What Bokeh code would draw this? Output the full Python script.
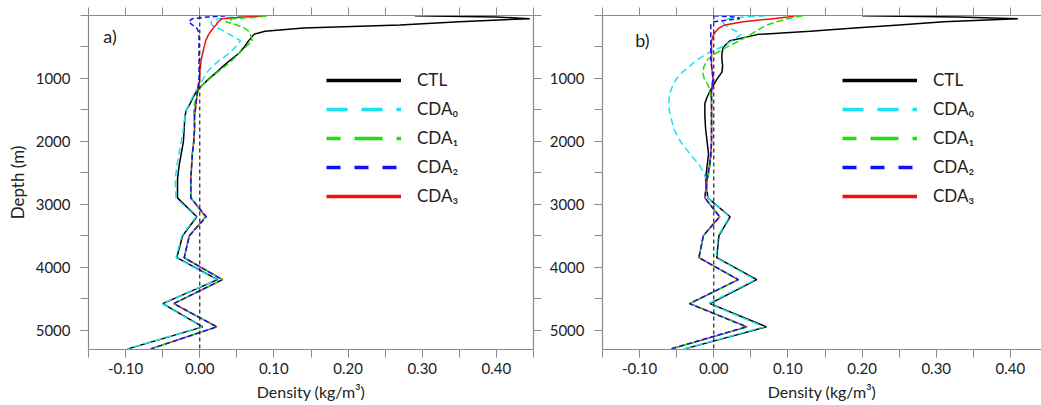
from bokeh.plotting import figure
from bokeh.models import (Range1d, LinearAxis, FixedTicker, PrintfTickFormatter,
                          Span, Legend, LegendItem, Label, ColumnDataSource)
from bokeh.layouts import row
from bokeh.embed import file_html
from bokeh.resources import INLINE

# ---------------- data ----------------
depth = [5, 25, 50, 100, 150, 200, 250, 300, 400, 500, 600, 700, 800, 900, 1000,
         1100, 1200, 1300, 1400, 1500, 1600, 1800, 2000, 2200, 2400, 2600, 2900,
         3200, 3500, 3850, 4200, 4580, 4950, 5300]

# panel a)
ctl_a = [0.29, 0.40, 0.445, 0.35, 0.27, 0.14, 0.088, 0.073, 0.066, 0.060, 0.053, 0.042,
         0.032, 0.023, 0.013, 0.004, -0.004, -0.009, -0.013, -0.018, -0.020, -0.021,
         -0.022, -0.025, -0.028, -0.030, -0.030, -0.004, -0.023, -0.031, 0.024, -0.050,
         0.004, -0.097]
cda0_a = [0.06, 0.045, 0.025, 0.015, 0.016, 0.025, 0.032, 0.040, 0.055, 0.048, 0.040,
          0.028, 0.018, 0.010, 0.005, 0.000, -0.005, -0.010, -0.014, -0.018, -0.020,
          -0.022, -0.025, -0.028, -0.031, -0.033, -0.032, -0.005, -0.024, -0.032, 0.023,
          -0.051, 0.003, -0.098]
cda1_a = [0.09, 0.08, 0.045, 0.035, 0.050, 0.060, 0.066, 0.068, 0.071, 0.062, 0.053,
          0.045, 0.035, 0.024, 0.014, 0.004, -0.002, -0.005, -0.007, -0.008, -0.008,
          -0.007, -0.008, -0.010, -0.011, -0.012, -0.012, 0.008, -0.014, -0.021, 0.031,
          -0.035, 0.023, -0.066]
cda2_a = [0.035, 0.010, -0.010, -0.015, -0.010, -0.004, -0.002, -0.001, -0.001, -0.001,
          -0.001, -0.001, -0.001, -0.001, -0.001, -0.002, -0.003, -0.004, -0.005, -0.006,
          -0.007, -0.007, -0.008, -0.010, -0.011, -0.012, -0.012, 0.009, -0.014, -0.021,
          0.030, -0.035, 0.023, -0.066]
cda3_a = [0.09, 0.06, 0.030, 0.025, 0.022, 0.018, 0.015, 0.012, 0.008, 0.006, 0.004,
          0.002, 0.001, 0.000, 0.000, -0.001, -0.003, -0.004, -0.005, -0.006, -0.007,
          -0.007, -0.008, -0.010, -0.011, -0.012, -0.012, 0.008, -0.014, -0.021, 0.031,
          -0.035, 0.023, -0.066]

# panel b)
ctl_b = [0.20, 0.33, 0.41, 0.31, 0.25, 0.19, 0.13, 0.06, 0.022, 0.013, 0.011, 0.011,
         0.012, 0.011, 0.005, 0.000, -0.005, -0.009, -0.012, -0.012, -0.012, -0.011,
         -0.009, -0.007, -0.009, -0.011, -0.008, 0.022, 0.007, 0.004, 0.058, -0.005,
         0.071, -0.039]
cda0_b = [0.07, 0.04, 0.02, 0.012, 0.015, 0.022, 0.030, 0.037, 0.025, 0.011, -0.008,
          -0.022, -0.032, -0.042, -0.050, -0.055, -0.058, -0.060, -0.061, -0.060, -0.058,
          -0.054, -0.045, -0.032, -0.018, -0.010, -0.008, 0.021, 0.006, 0.003, 0.056,
          -0.007, 0.068, -0.040]
cda1_b = [0.12, 0.11, 0.10, 0.085, 0.072, 0.064, 0.057, 0.050, 0.035, 0.018, 0.003,
          -0.008, -0.013, -0.015, -0.013, -0.008, -0.005, -0.004, -0.003, -0.003, -0.003,
          -0.003, -0.003, -0.003, -0.005, -0.008, -0.012, 0.008, -0.014, -0.020, 0.033,
          -0.032, 0.045, -0.057]
cda2_b = [0.0, 0.03, 0.035, 0.0, -0.004, -0.004, -0.004, -0.004, -0.004, -0.004, -0.004,
          -0.004, -0.003, -0.002, -0.001, -0.002, -0.003, -0.003, -0.003, -0.003, -0.003,
          -0.003, -0.003, -0.004, -0.006, -0.009, -0.012, 0.008, -0.014, -0.020, 0.033,
          -0.033, 0.044, -0.058]
cda3_b = [0.11, 0.10, 0.08, 0.04, 0.015, 0.007, 0.003, 0.000, -0.003, -0.003, -0.003,
          -0.003, -0.003, -0.002, -0.001, -0.002, -0.003, -0.003, -0.003, -0.003, -0.003,
          -0.003, -0.003, -0.004, -0.006, -0.009, -0.012, 0.008, -0.014, -0.020, 0.033,
          -0.032, 0.045, -0.057]

series_names = ["CTL", "CDA\u2080", "CDA\u2081", "CDA\u2082", "CDA\u2083"]
x_major = [-0.1, 0.0, 0.1, 0.2, 0.3, 0.4]
x_minor = [-0.15, -0.1, -0.05, 0.0, 0.05, 0.1, 0.15, 0.2, 0.25, 0.3, 0.35, 0.4, 0.45]
y_major = [1000, 2000, 3000, 4000, 5000]
y_minor = [0, 500, 1000, 1500, 2000, 2500, 3000, 3500, 4000, 4500, 5000]

FONT = "Lato"
AX_COL = "#8a8a8a"
TXT_COL = "#222222"

# style per series: color, plot dash, legend dash, legend dash offset
styles = [
    ("#000000", "solid", "solid", 0),
    ("#19E3F0", "7 4", "21 14", 0),
    ("#22DD11", "7 3", "28 14", 14),
    ("#1010F0", "5 3", "14 14", 0),
    ("#F01010", "solid", "solid", 0),
]
draw_order = [0, 1, 4, 2, 3]


def style_axis(ax):
    ax.axis_line_color = AX_COL
    ax.axis_line_width = 1.2
    ax.major_tick_line_color = AX_COL
    ax.minor_tick_line_color = AX_COL
    ax.major_tick_out = 8
    ax.minor_tick_out = 8
    ax.major_tick_in = 0
    ax.minor_tick_in = 0
    ax.major_label_text_font = FONT
    ax.major_label_text_font_size = "15px"
    ax.major_label_text_color = TXT_COL
    ax.axis_label_text_font = FONT
    ax.axis_label_text_font_size = "16px"
    ax.axis_label_text_font_style = "normal"
    ax.axis_label_text_color = TXT_COL


def make_panel(series, width, frame_left, x_end, tag, tag_x, tag_y, show_ylabel, right_axis, legend_x):
    p = figure(width=width, height=405, output_backend="svg", toolbar_location=None,
               x_axis_location=None, y_axis_location=None,
               x_range=Range1d(-0.15, x_end), y_range=Range1d(5310, 0),
               min_border_left=frame_left, min_border_top=15, min_border_bottom=56,
               min_border_right=(width - frame_left - 445) if right_axis else 0)
    p.outline_line_color = None
    p.xgrid.visible = False
    p.ygrid.visible = False
    p.background_fill_color = "white"
    p.border_fill_color = "white"

    xt = FixedTicker(ticks=x_major, minor_ticks=x_minor)
    yt = FixedTicker(ticks=y_major, minor_ticks=y_minor)

    bx = LinearAxis(ticker=xt, formatter=PrintfTickFormatter(format="%.2f"),
                    axis_label="Density (kg/m\u00b3)")
    style_axis(bx)
    bx.major_label_standoff = 5
    bx.axis_label_standoff = 5
    p.add_layout(bx, "below")

    # top frame: ticks only (minor ticks, no labelled major ticks)
    tx = LinearAxis(ticker=FixedTicker(ticks=[], minor_ticks=x_minor))
    style_axis(tx)
    p.add_layout(tx, "above")

    ly = LinearAxis(ticker=yt, axis_label="Depth (m)" if show_ylabel else None)
    style_axis(ly)
    ly.axis_label_text_font_size = "17px"
    ly.major_label_standoff = 10
    ly.axis_label_standoff = 5
    p.add_layout(ly, "left")

    if right_axis:
        ry = LinearAxis(ticker=FixedTicker(ticks=[], minor_ticks=y_minor))
        style_axis(ry)
        p.add_layout(ry, "right")

    p.add_layout(Span(location=0, dimension="height", line_color="#222222",
                      line_width=1.2, line_dash="4 3"))

    for i in draw_order:
        col, dash, _, _ = styles[i]
        src = ColumnDataSource(dict(x=series[i], y=depth))
        p.line("x", "y", source=src, line_color=col, line_width=1.5, line_dash=dash)

    # legend proxies (not drawn in the plot area: NaN data)
    items = []
    nan = float("nan")
    for i, name in enumerate(series_names):
        col, _, ldash, loff = styles[i]
        r = p.line(x=[nan], y=[nan], line_color=col, line_width=3.5, line_dash=ldash,
                   line_dash_offset=loff)
        items.append(LegendItem(label=name, renderers=[r]))
    leg = Legend(items=items, location=(legend_x, 143), glyph_width=75, glyph_height=20,
                 label_height=20, spacing=8, padding=0, margin=0, label_standoff=16,
                 border_line_color=None, background_fill_alpha=0,
                 label_text_font=FONT, label_text_font_size="17px",
                 label_text_color=TXT_COL)
    p.add_layout(leg)

    p.add_layout(Label(x=tag_x, y=tag_y, text=tag, text_font=FONT, text_font_size="18px",
                       text_baseline="middle", text_color=TXT_COL))
    return p


p1 = make_panel([ctl_a, cda0_a, cda1_a, cda2_a, cda3_a], 545, 88, 0.45, "a)", -0.13, 320,
                True, True, 238)
p2 = make_panel([ctl_b, cda0_b, cda1_b, cda2_b, cda3_b], 496, 57, -0.15 + 0.6 * 439 / 445,
                "b)", -0.106, 390, False, False, 240)

layout = row(p1, p2)
open("out.html", "w").write(file_html(layout, INLINE))
